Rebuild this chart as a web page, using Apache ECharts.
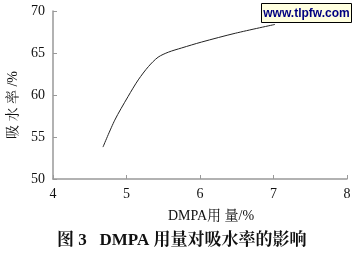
<!DOCTYPE html>
<html><head><meta charset="utf-8">
<script src="https://cdn.jsdelivr.net/npm/echarts@6/dist/echarts.min.js"></script>
<style>html,body{margin:0;padding:0;background:#fff}#c{width:355px;height:256px}</style>
</head><body><div id="c"></div>
<script>
const xValues = [4.68, 4.84, 5.02, 5.16, 5.30, 5.43, 5.57, 5.75, 6.02, 6.48, 7.02];
const yValues = [53.8, 57.0, 59.8, 61.8, 63.4, 64.5, 65.1, 65.6, 66.3, 67.35, 68.4];
const xTicks = [4, 5, 6, 7, 8];
const yTicks = [50, 55, 60, 65, 70];
const xName = 'DMPA用 量/%';
const yName = '吸 水 率 /%';
const title = '图 3   DMPA 用量对吸水率的影响';
const watermark = 'www.tlpfw.com';

const chart = echarts.init(document.getElementById('c'));
const axisCol = '#999';
const serif = '"Liberation Serif","Times New Roman","Noto Serif CJK SC","Noto Sans CJK SC",serif';
chart.setOption({
  animation: false,
  grid: {left: 53, right: 8, top: 11, bottom: 77, containLabel: false, outerBoundsMode: 'none'},
  xAxis: {
    type: 'value', min: xTicks[0], max: xTicks[xTicks.length-1], interval: 1,
    axisLine: {lineStyle: {color: axisCol, width: 1.5}},
    axisTick: {inside: true, length: 4, lineStyle: {color: axisCol}},
    splitLine: {show: false},
    axisLabel: {color: '#111', fontFamily: serif, fontSize: 14, margin: 8},
    name: xName, nameLocation: 'middle', nameGap: 30,
    nameTextStyle: {color: '#111', fontFamily: serif, fontSize: 14, padding: [0, 0, 0, 22]}
  },
  yAxis: {
    type: 'value', min: yTicks[0], max: yTicks[yTicks.length-1], interval: 5,
    axisLine: {show: true, lineStyle: {color: axisCol, width: 1.5}},
    axisTick: {show: true, inside: true, length: 4, lineStyle: {color: axisCol}},
    splitLine: {show: false},
    axisLabel: {color: '#111', fontFamily: serif, fontSize: 14, margin: 8},
    name: yName, nameLocation: 'middle', nameGap: 30, nameRotate: 90,
    nameTextStyle: {color: '#111', fontFamily: serif, fontSize: 14, padding: [0, 20, 0, 0]}
  },
  series: [{
    type: 'line', smooth: 0.3, showSymbol: false,
    data: xValues.map((x, i) => [x, yValues[i]]),
    lineStyle: {color: '#222', width: 1}
  }],
  graphic: [
    {type: 'text', left: 57, top: 232,
     style: {text: title, font: 'bold 17px ' + serif, fill: '#111'}},
    {type: 'group', right: 3, top: 3, children: [
      {type: 'rect', shape: {x: 0, y: 0, width: 90, height: 19},
       style: {fill: '#ffffe0', stroke: '#000', lineWidth: 1}},
      {type: 'text', x: 45, y: 10,
       style: {text: watermark, font: 'bold 12px "Liberation Sans",Arial,sans-serif', fill: '#000080', align: 'center', verticalAlign: 'middle'}}
    ]}
  ]
});
</script></body></html>
